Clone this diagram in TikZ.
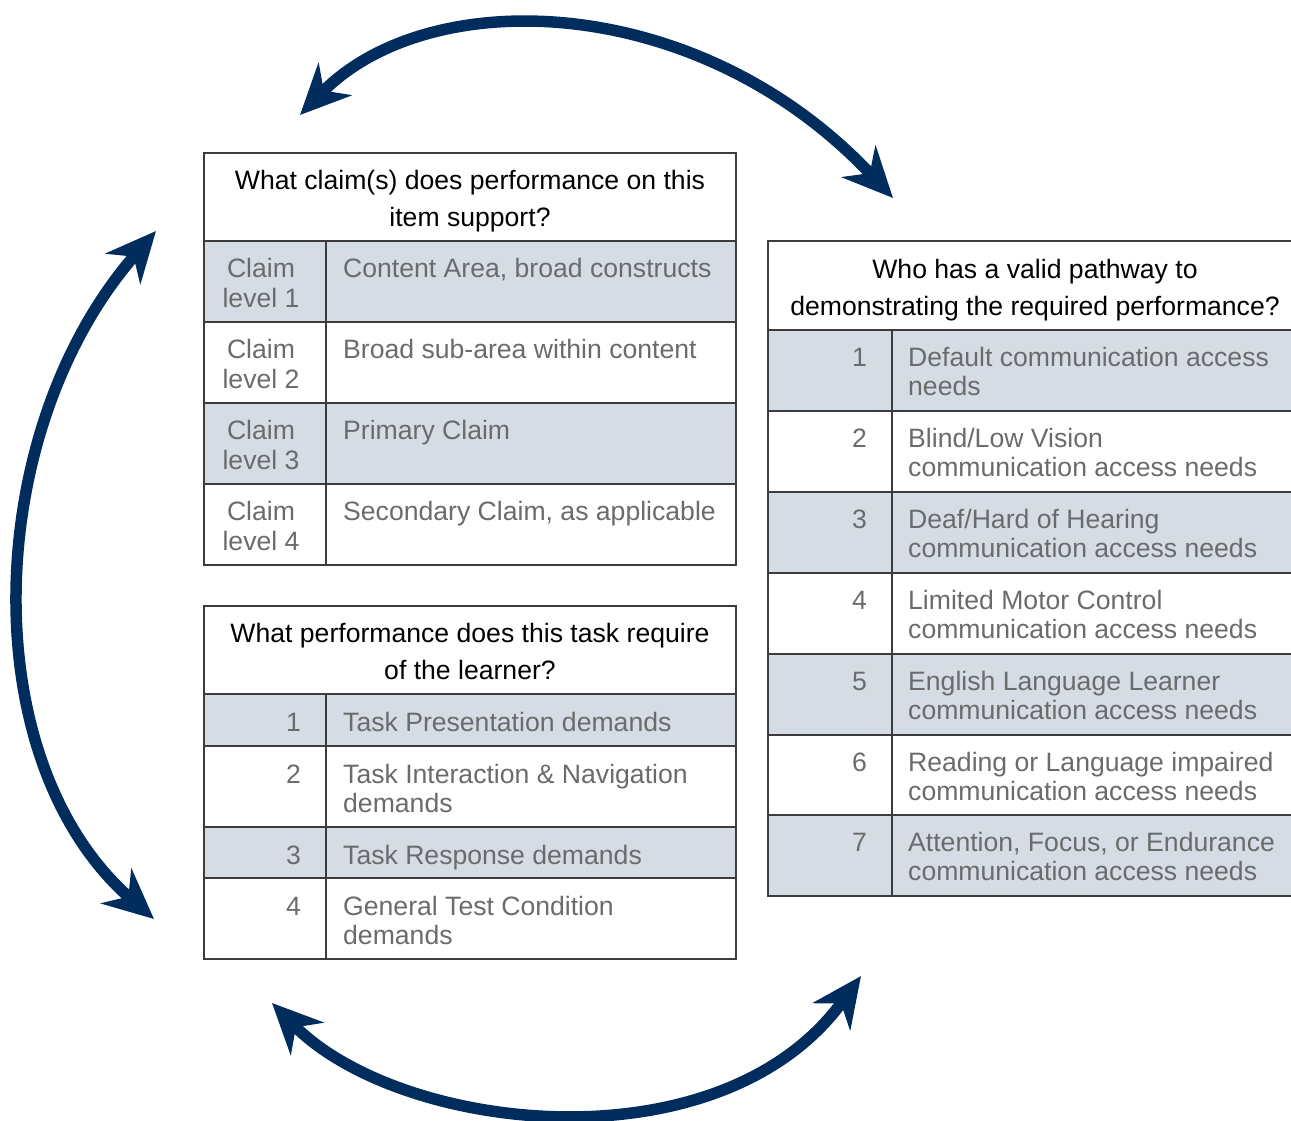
\documentclass[tikz,border=0pt]{standalone}
\usepackage{fontspec}
\setmainfont{Liberation Sans}
\usetikzlibrary{arrows.meta}
\definecolor{navy}{HTML}{002D5E}
\definecolor{rowfill}{HTML}{D6DCE4}
\definecolor{rowtext}{HTML}{6B6B6B}
\definecolor{rulec}{HTML}{3C3C3C}
\newcommand{\tabfont}{\fontsize{26.6}{30}\selectfont}
\begin{document}
\begin{tikzpicture}[x=1pt,y=-1pt,
  hdr/.style={anchor=base, inner sep=0pt, text=black, font=\tabfont},
  rowt/.style={anchor=base west, inner sep=0pt, text=rowtext, font=\tabfont},
  numt/.style={anchor=base east, inner sep=0pt, text=rowtext, font=\tabfont},
  lvlt/.style={anchor=base, inner sep=0pt, text=rowtext, font=\tabfont},
  gridline/.style={draw=rulec, line width=1.5pt},
  band/.style={fill=rowfill},
  cyc/.style={draw=navy, line width=11.5pt,
    {Stealth[length=50pt,width=46pt,inset=16pt]}-{Stealth[length=50pt,width=46pt,inset=16pt]}}
]
\useasboundingbox (0,0) rectangle (1291,1120);

% ---------- Table 1 ----------
\fill[band] (204,241) rectangle (736,322);
\fill[band] (204,403) rectangle (736,484);
\draw[gridline] (204,153) rectangle (736,565);
\foreach \yy in {241,322,403,484} \draw[gridline] (204,\yy) -- (736,\yy);
\draw[gridline] (326,241) -- (326,565);
\node[hdr] (h1a) at (470,189) {What claim(s) does performance on this};
\node[hdr] (h1b) at (470,226) {item support?};
\node[lvlt] (l1a) at (261,277) {Claim};
\node[lvlt] (l1b) at (261,307) {level 1};
\node[rowt] (c1) at (343,277) {Content Area, broad constructs};
\node[lvlt] (l2a) at (261,358) {Claim};
\node[lvlt] (l2b) at (261,388) {level 2};
\node[rowt] (c2) at (343,358) {Broad sub-area within content};
\node[lvlt] (l3a) at (261,439) {Claim};
\node[lvlt] (l3b) at (261,469) {level 3};
\node[rowt] (c3) at (343,439) {Primary Claim};
\node[lvlt] (l4a) at (261,520) {Claim};
\node[lvlt] (l4b) at (261,550) {level 4};
\node[rowt] (c4) at (343,520) {Secondary Claim, as applicable};

% ---------- Table 2 ----------
\fill[band] (204,694) rectangle (736,746);
\fill[band] (204,827) rectangle (736,878);
\draw[gridline] (204,606) rectangle (736,959);
\foreach \yy in {694,746,827,878} \draw[gridline] (204,\yy) -- (736,\yy);
\draw[gridline] (326,694) -- (326,959);
\node[hdr] (h2a) at (470,642) {What performance does this task require};
\node[hdr] (h2b) at (470,679) {of the learner?};
\node[numt] (n21) at (301,731) {1};
\node[rowt] (t21) at (343,731) {Task Presentation demands};
\node[numt] (n22) at (301,783) {2};
\node[rowt] (t22a) at (343,783) {Task Interaction \& Navigation};
\node[rowt] (t22b) at (343,812) {demands};
\node[numt] (n23) at (301,864) {3};
\node[rowt] (t23) at (343,864) {Task Response demands};
\node[numt] (n24) at (301,915) {4};
\node[rowt] (t24a) at (343,915) {General Test Condition};
\node[rowt] (t24b) at (343,944) {demands};

% ---------- Table 3 ----------
\foreach \yy in {330,492,654,815} \fill[band] (768,\yy) rectangle (1301,\yy+81);
\draw[gridline] (768,241) rectangle (1301,896);
\foreach \yy in {330,411,492,573,654,735,815} \draw[gridline] (768,\yy) -- (1301,\yy);
\draw[gridline] (892,330) -- (892,896);
\node[hdr] (h3a) at (1035,278) {Who has a valid pathway to};
\node[hdr] (h3b) at (1035,315) {demonstrating the required performance?};
\node[numt] (n31) at (867,366) {1};
\node[rowt] (t31a) at (908,366) {Default communication access};
\node[rowt] (t31b) at (908,395) {needs};
\node[numt] (n32) at (867,447) {2};
\node[rowt] (t32a) at (908,447) {Blind/Low Vision};
\node[rowt] (t32b) at (908,476) {communication access needs};
\node[numt] (n33) at (867,528) {3};
\node[rowt] (t33a) at (908,528) {Deaf/Hard of Hearing};
\node[rowt] (t33b) at (908,557) {communication access needs};
\node[numt] (n34) at (867,609) {4};
\node[rowt] (t34a) at (908,609) {Limited Motor Control};
\node[rowt] (t34b) at (908,638) {communication access needs};
\node[numt] (n35) at (867,690) {5};
\node[rowt] (t35a) at (908,690) {English Language Learner};
\node[rowt] (t35b) at (908,719) {communication access needs};
\node[numt] (n36) at (867,771) {6};
\node[rowt] (t36a) at (908,771) {Reading or Language impaired};
\node[rowt] (t36b) at (908,800) {communication access needs};
\node[numt] (n37) at (867,851) {7};
\node[rowt] (t37a) at (908,851) {Attention, Focus, or Endurance};
\node[rowt] (t37b) at (908,880) {communication access needs};

% ---------- cycle arrows ----------
\coordinate (aTopL) at (300,115);
\coordinate (aTopR) at (893,198);
\coordinate (aLeftT) at (156,231);
\coordinate (aLeftB) at (154,919);
\coordinate (aBotL) at (272,1003);
\coordinate (aBotR) at (861,976);
\draw[cyc] (aTopL) .. controls (430,-18) and (700,-8) .. (aTopR);
\draw[cyc] (aLeftT) .. controls (-18,430) and (-28,760) .. (aLeftB);
\draw[cyc] (aBotL) .. controls (400,1133) and (720,1170) .. (aBotR);
\end{tikzpicture}
\end{document}
